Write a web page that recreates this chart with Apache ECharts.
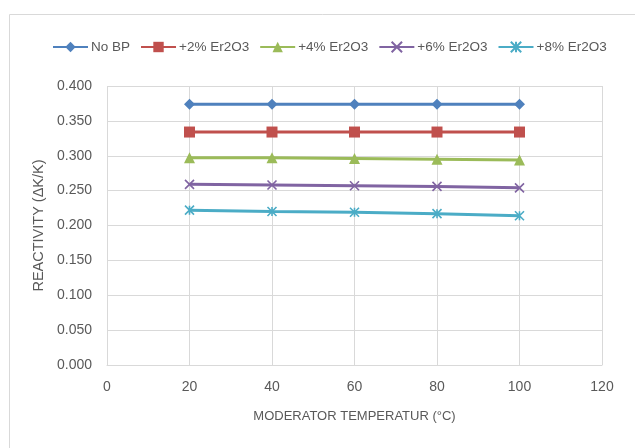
<!DOCTYPE html>
<html><head><meta charset="utf-8">
<script src="https://cdn.jsdelivr.net/npm/echarts@6/dist/echarts.min.js"></script>
<style>html,body{margin:0;padding:0;background:#fff}#c{width:635px;height:448px}</style>
</head><body><div id="c"></div>
<script>
const temps = [20, 40, 60, 80, 100];
const seriesNames = ['No BP', '+2% Er2O3', '+4% Er2O3', '+6% Er2O3', '+8% Er2O3'];
const noBP = [0.374, 0.374, 0.374, 0.374, 0.374];
const er2 = [0.334, 0.334, 0.334, 0.334, 0.334];
const er4 = [0.297, 0.297, 0.296, 0.295, 0.294];
const er6 = [0.259, 0.258, 0.257, 0.256, 0.254];
const er8 = [0.222, 0.220, 0.219, 0.217, 0.214];
const colors = ['#4F81BD', '#C0504D', '#9BBB59', '#8064A2', '#4BACC6'];
const yTicks = ['0.000','0.050','0.100','0.150','0.200','0.250','0.300','0.350','0.400'];
const xTicks = [0, 20, 40, 60, 80, 100, 120];

const FONT = "'Liberation Sans', Arial, sans-serif";
const TXT = '#595959';
const symbols = [
  {symbol: 'diamond', size: 11, stroke: 0},
  {symbol: 'rect', size: 11, stroke: 0},
  {symbol: 'triangle', size: 11, stroke: 0},
  {symbol: 'path://M0,0 L10,10 M10,0 L0,10', size: 9, stroke: 1.6},
  {symbol: 'path://M0,0 L10,10 M10,0 L0,10 M5,0 L5,10', size: 9, stroke: 1.6}
];
const data = [noBP, er2, er4, er6, er8];

const chart = echarts.init(document.getElementById('c'), null, {renderer: 'canvas'});
chart.setOption({
  animation: false,
  textStyle: {fontFamily: FONT},
  graphic: [{type: 'rect', shape: {x: 9.5, y: 14.5, width: 700, height: 500}, style: {fill: 'none', stroke: '#d9d9d9', lineWidth: 1}, silent: true}],
  legend: {
    top: 35, left: 47, itemWidth: 35, itemHeight: 13, itemGap: 10,
    textStyle: {fontFamily: FONT, fontSize: 13.5, color: TXT, padding: [0, 0, 0, -2]},
    data: seriesNames
  },
  grid: {left: 107, right: 33, top: 86, bottom: 83},
  xAxis: {
    type: 'value', min: 0, max: 120, interval: 20,
    name: 'MODERATOR TEMPERATUR (°C)', nameLocation: 'middle', nameGap: 45,
    nameTextStyle: {fontFamily: FONT, fontSize: 13, color: TXT},
    axisLine: {show: true, lineStyle: {color: '#d9d9d9'}},
    axisTick: {show: false},
    axisLabel: {color: TXT, fontSize: 14, margin: 15, formatter: v => xTicks.includes(v) ? String(v) : ''},
    splitLine: {show: true, lineStyle: {color: '#d9d9d9', width: 1}}
  },
  yAxis: {
    type: 'value', min: 0, max: 0.4, interval: 0.05,
    name: 'REACTIVITY (ΔK/K)', nameLocation: 'middle', nameGap: 59,
    nameTextStyle: {fontFamily: FONT, fontSize: 14.5, color: TXT},
    axisLine: {show: false}, axisTick: {show: false},
    axisLabel: {color: TXT, fontSize: 14, margin: 15, formatter: v => yTicks[Math.round(v / 0.05)]},
    splitLine: {show: true, lineStyle: {color: '#d9d9d9', width: 1}}
  },
  series: seriesNames.map((n, i) => ({
    name: n, type: 'line',
    data: temps.map((t, j) => [t, data[i][j]]),
    symbol: symbols[i].symbol, symbolSize: symbols[i].size,
    showAllSymbol: true,
    lineStyle: {color: colors[i], width: 3},
    itemStyle: {color: colors[i], borderColor: colors[i], borderWidth: symbols[i].stroke},
    emphasis: {disabled: true}
  }))
});
</script></body></html>
